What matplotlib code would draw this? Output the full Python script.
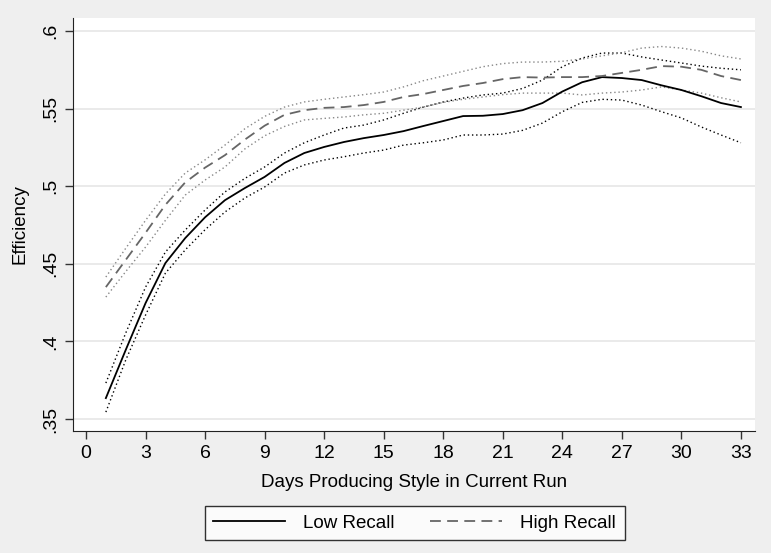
import numpy as np
import matplotlib.pyplot as plt

plt.rcParams['font.family'] = ['Liberation Sans', 'DejaVu Sans']

days = list(range(1, 34))

low = [.3635, .3945, .4247, .4505, .4666, .480, .491, .4988, .506, .515, .5214,
       .5253, .5285, .531, .533, .5355, .5388, .542, .5452, .5454, .5465, .549,
       .5536, .561, .567, .5703, .5697, .5684, .565, .562, .558, .5536, .551]
low_hi = [.3732, .4054, .435, .4576, .4718, .4847, .4963, .505, .5124, .5214, .528,
          .533, .5375, .5394, .5427, .547, .551, .5543, .5568, .5588, .560, .563,
          .5684, .577, .5826, .5858, .5858, .5833, .5813, .5794, .5774, .576, .575]
low_lo = [.3545, .388, .417, .444, .459, .472, .4834, .4924, .4995, .5085, .5137,
          .5169, .519, .5214, .5233, .5265, .528, .5298, .533, .533, .5336, .536,
          .5407, .548, .554, .556, .5555, .5523, .548, .544, .5382, .533, .528]

high = [.435, .4525, .470, .488, .5025, .512, .520, .530, .539, .546, .549,
        .5505, .551, .5523, .5543, .5575, .5594, .562, .5646, .5665, .569, .5703,
        .570, .5703, .5703, .571, .573, .575, .5774, .577, .575, .571, .5684]
high_hi = [.4415, .460, .478, .495, .5085, .517, .5265, .537, .545, .551, .5543,
           .556, .5575, .559, .5607, .564, .568, .571, .574, .577, .579, .580,
           .580, .5805, .582, .584, .586, .589, .590, .589, .587, .584, .582]
high_lo = [.4286, .445, .4608, .478, .4943, .504, .5124, .524, .5325, .5385, .5427,
           .5437, .5446, .546, .547, .549, .551, .554, .556, .5575, .559, .560,
           .560, .560, .5588, .560, .5607, .562, .564, .562, .560, .557, .5543]

fig = plt.figure(figsize=(7.71, 5.53), dpi=100, facecolor='#efefef')
ax = fig.add_axes([0.0947, 0.2206, 0.8843, 0.7469])
ax.set_facecolor('white')

for v in np.arange(0.35, 0.601, 0.05):
    ax.axhline(v, color='#e6e6e6', lw=1.2, zorder=0)

ax.plot(days, low_hi, color='black', lw=1, ls=(0, (1, 2)))
ax.plot(days, low_lo, color='black', lw=1, ls=(0, (1, 2)))
ax.plot(days, high_hi, color='#888888', lw=1, ls=(0, (1, 2)))
ax.plot(days, high_lo, color='#888888', lw=1, ls=(0, (1, 2)))
l1, = ax.plot(days, low, color='black', lw=1.3, label='Low Recall')
l2, = ax.plot(days, high, color='#666666', lw=1.3, ls=(0, (6, 3.5)), label='High Recall')

ax.set_xlim(-0.655, 33.7)
ax.set_ylim(0.3423, 0.6084)
ax.set_xticks(range(0, 34, 3))
yt = [.35, .4, .45, .5, .55, .6]
ax.set_yticks(yt)
ax.set_yticklabels(['.35', '.4', '.45', '.5', '.55', '.6'], rotation=90, va='center')
ax.tick_params(labelsize=14, length=6, width=1, color='#333333', pad=4)
for s in ['top', 'right']:
    ax.spines[s].set_visible(False)
for s in ['left', 'bottom']:
    ax.spines[s].set_color('#222222')

ax.set_xlabel('Days Producing Style in Current Run', fontsize=13.5, labelpad=9)
ax.set_ylabel('Efficiency', fontsize=13.5, labelpad=10)

leg = fig.legend(handles=[l1, l2], loc='center', bbox_to_anchor=(0.538, 0.0535), ncol=2,
                 fontsize=13.5, frameon=True, fancybox=False, edgecolor='black',
                 handlelength=3.8, columnspacing=1.9, borderpad=0.45, handletextpad=1.0)
leg.get_frame().set_linewidth(1)

fig.savefig('out.png', dpi=100, facecolor=fig.get_facecolor())
